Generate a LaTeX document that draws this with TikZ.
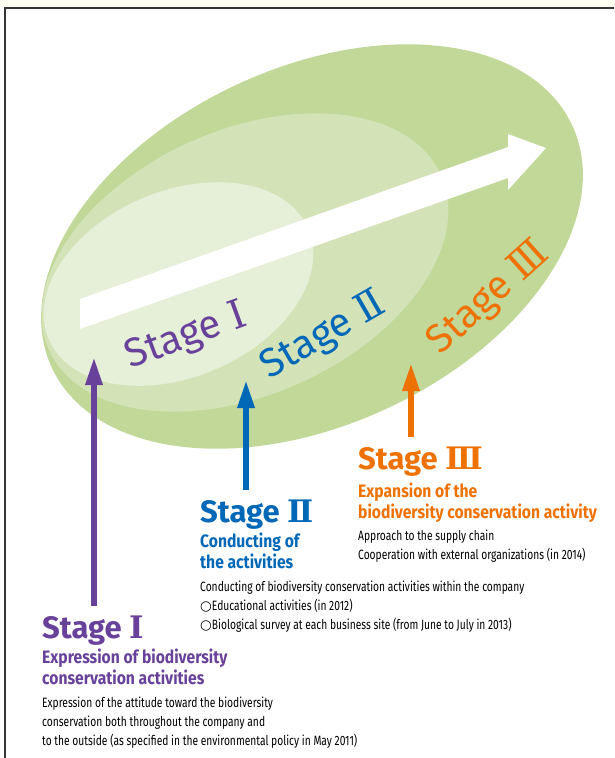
\documentclass[tikz,border=0pt]{standalone}
\usepackage{fontspec}
\setmainfont{Fira Sans}
\newfontfamily\condfont[FakeStretch=0.76]{Fira Sans}
\newfontfamily\subfont[FakeStretch=0.87]{Fira Sans}
\newfontfamily\numfont{DejaVu Serif}
\usetikzlibrary{arrows.meta,positioning}

\definecolor{stagepurple}{HTML}{68419A}
\definecolor{stageblue}{HTML}{0068B7}
\definecolor{stageorange}{HTML}{EE7203}
\definecolor{greenouter}{HTML}{C2D899}
\definecolor{greenmid}{HTML}{D4E2B8}
\definecolor{greeninner}{HTML}{E6EFD7}
\definecolor{framecream}{HTML}{FFFEF2}
\definecolor{framegray}{HTML}{333333}

\newcommand\rnum[1]{{\numfont #1}}

\tikzset{
  stagelabel/.style={font=\fontsize{40}{40}\selectfont, inner sep=0, anchor=base},
  stagehead/.style={font=\bfseries\fontsize{31}{31}\selectfont, inner sep=0, anchor=base west},
  stagesub/.style={font=\subfont\bfseries\fontsize{18}{21}\selectfont, align=left, inner sep=0, anchor=base west},
  stagetext/.style={font=\condfont\fontsize{13.5}{18.6}\selectfont, align=left, inner sep=0, anchor=base west},
  stagearrow/.style={line width=6pt, -{Triangle[width=16pt,length=28pt]}, shorten <=9pt}
}

\begin{document}
\begin{tikzpicture}[x=1pt, y=-1pt]
  \useasboundingbox (0,0) rectangle (614,758);
  \fill[framecream] (0,0) rectangle (614,7);
  \draw[framegray, line width=2pt] (614,8) -- (4.5,8) -- (4.5,758);

  % the three stages as nested ovals
  \fill[greenouter, shift={(312,246.5)}, rotate=25] (0,0) ellipse [x radius=287, y radius=178.5];
  \fill[greenmid, shift={(245,262.5)}, rotate=24] (0,0) ellipse [x radius=214.6, y radius=132.4];
  \fill[greeninner, shift={(178.5,284)}, rotate=23] (0,0) ellipse [x radius=141, y radius=93];

  \fill[white] (80,299) -- (508,147) -- (508,134) -- (546,148) -- (508,190) -- (508,178) -- (80,329) -- cycle;

  \node (lblI) [stagelabel, stagepurple, rotate=20] at (190,347) {Stage \rnum{Ⅰ}};
  \node (lblII) [stagelabel, stageblue, rotate=30] at (329,345) {Stage \rnum{Ⅱ}};
  \node (lblIII) [stagelabel, stageorange, rotate=42] at (496,306) {Stage \rnum{Ⅲ}};

  \coordinate (tipI) at (94,357);
  \coordinate (tipII) at (246,380);
  \coordinate (tipIII) at (411,363);

  % stage I (multi-line nodes sit on their last baseline)
  \node (hdI) [stagehead, stagepurple] at (42,638) {Stage \rnum{Ⅰ}};
  \node (subI) [stagesub, stagepurple] at (42,684) {Expression of biodiversity\\conservation activities};
  \node (txtI) [stagetext] at (42,745) {Expression of the attitude toward the biodiversity\\conservation both throughout the company and\\to the outside (as specified in the environmental policy in May 2011)};

  % stage II
  \node (hdII) [stagehead, stageblue] at (200,522) {Stage \rnum{Ⅱ}};
  \node (subII) [stagesub, stageblue] at (200,568) {Conducting of\\the activities};
  \node (txtII) [stagetext] at (200,629) {Conducting of biodiversity conservation activities within the company\\{\numfont ○}Educational activities (in 2012)\\{\numfont ○}Biological survey at each business site (from June to July in 2013)};

  % stage III
  \node (hdIII) [stagehead, stageorange] at (358,469) {Stage \rnum{Ⅲ}};
  \node (subIII) [stagesub, stageorange] at (358,518) {Expansion of the\\biodiversity conservation activity};
  \node (txtIII) [stagetext] at (358,559) {Approach to the supply chain\\Cooperation with external organizations (in 2014)};

  \draw[stagearrow, stagepurple] (tipI |- hdI.north) -- (tipI);
  \draw[stagearrow, stageblue] (tipII |- hdII.north) -- (tipII);
  \draw[stagearrow, stageorange] (tipIII |- hdIII.north) -- (tipIII);
\end{tikzpicture}
\end{document}
